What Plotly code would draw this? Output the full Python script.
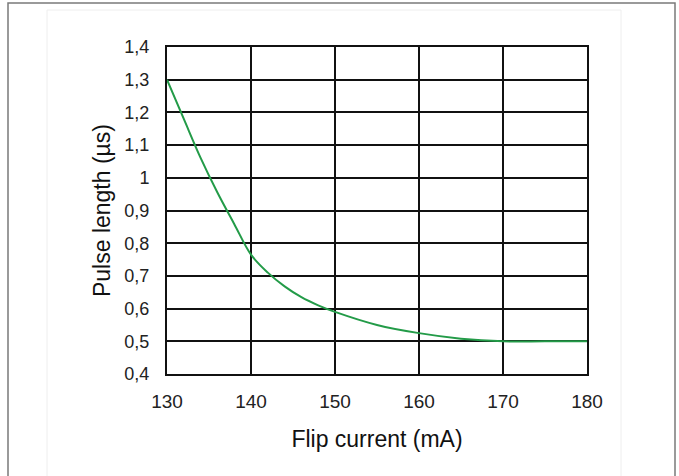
import plotly.graph_objects as go

current_mA = [130, 132, 134, 136, 138, 140, 142, 144, 146, 148, 150, 155, 160, 165, 170, 175, 180]
pulse_us = [1.30, 1.18, 1.061, 0.955, 0.859, 0.765, 0.71, 0.668, 0.635, 0.61, 0.59, 0.55, 0.525, 0.508, 0.50, 0.50, 0.50]

y_ticks = [0.4, 0.5, 0.6, 0.7, 0.8, 0.9, 1.0, 1.1, 1.2, 1.3, 1.4]
y_ticktext = ["0,4", "0,5", "0,6", "0,7", "0,8", "0,9", "1", "1,1", "1,2", "1,3", "1,4"]
x_ticks = [130, 140, 150, 160, 170, 180]

L, R, T, B = 167, 587, 47, 374
W, H = 679, 476

def px(x):
    return (x - L) / (R - L)

def py(y):
    return (B - y) / (B - T)

fig = go.Figure()
fig.add_trace(go.Scatter(
    x=current_mA, y=pulse_us, mode="lines",
    line=dict(color="#239b48", width=2, shape="spline", smoothing=1.0),
    showlegend=False, hoverinfo="skip",
))

font = "Liberation Sans, Arial, sans-serif"
fig.update_layout(
    width=W, height=H,
    margin=dict(l=L, r=W - R, t=T, b=H - B, autoexpand=False),
    paper_bgcolor="white", plot_bgcolor="white",
    font=dict(family=font, color="#222222"),
    xaxis=dict(
        range=[130, 180], tickvals=x_ticks, ticktext=[str(v) for v in x_ticks],
        showgrid=True, gridcolor="#111111", gridwidth=2,
        showline=True, linecolor="#111111", linewidth=2, mirror=True,
        zeroline=False, ticks="", ticklabelstandoff=9,
        tickfont=dict(size=19, family=font, color="#222222"),
        title=dict(text="Flip current (mA)", font=dict(size=23, family=font, color="#111111"), standoff=20),
        automargin=False,
    ),
    yaxis=dict(
        range=[0.4, 1.4], tickvals=y_ticks, ticktext=y_ticktext,
        showgrid=True, gridcolor="#111111", gridwidth=2,
        showline=True, linecolor="#111111", linewidth=2, mirror=True,
        zeroline=False, ticks="", ticklabelstandoff=12,
        tickfont=dict(size=18, family=font, color="#222222"),
        title=dict(text="Pulse length (µs)", font=dict(size=23, family=font, color="#111111"), standoff=7),
        automargin=False,
    ),
    shapes=[
        dict(type="rect", xref="paper", yref="paper",
             x0=px(8), x1=px(675), y0=py(485), y1=py(3),
             line=dict(color="#7a7a7a", width=1.5), layer="below"),
        dict(type="rect", xref="paper", yref="paper",
             x0=px(47), x1=px(621), y0=py(485), y1=py(10),
             line=dict(color="#eeeeee", width=1), layer="below"),
    ],
)

fig.write_html("out.html", config={"displayModeBar": False},
               post_script="document.body.style.margin='0';document.body.style.overflow='hidden';")
